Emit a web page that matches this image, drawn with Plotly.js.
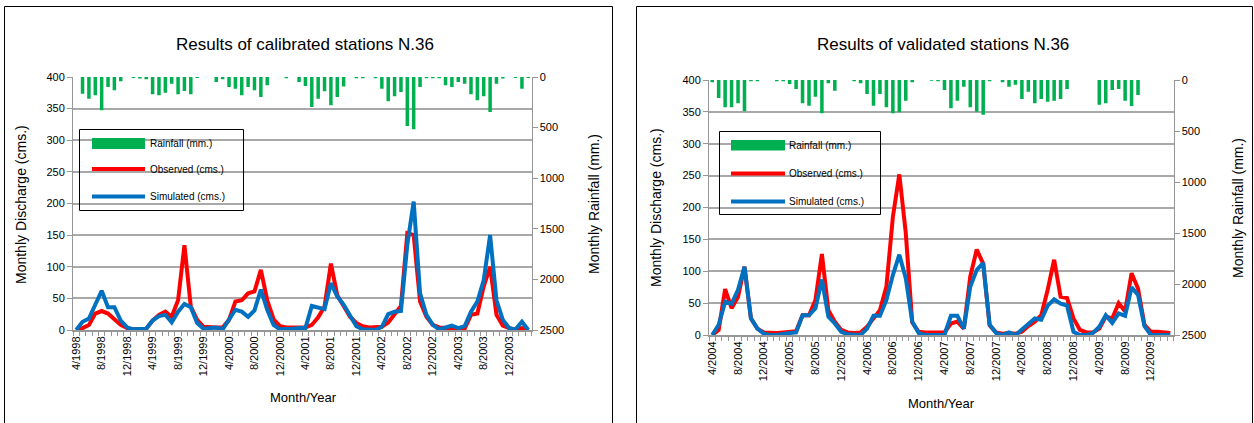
<!DOCTYPE html>
<html>
<head>
<meta charset="utf-8">
<script src="https://cdn.plot.ly/plotly-3.0.1.min.js"></script>
<style>html,body{margin:0;padding:0;background:#fff;}#chart{width:1254px;height:423px;}</style>
</head>
<body>
<div id="chart"></div>
<script>
// ---- Data ----
const months1 = ["4/1998","5/1998","6/1998","7/1998","8/1998","9/1998","10/1998","11/1998","12/1998",
"1/1999","2/1999","3/1999","4/1999","5/1999","6/1999","7/1999","8/1999","9/1999","10/1999","11/1999","12/1999",
"1/2000","2/2000","3/2000","4/2000","5/2000","6/2000","7/2000","8/2000","9/2000","10/2000","11/2000","12/2000",
"1/2001","2/2001","3/2001","4/2001","5/2001","6/2001","7/2001","8/2001","9/2001","10/2001","11/2001","12/2001",
"1/2002","2/2002","3/2002","4/2002","5/2002","6/2002","7/2002","8/2002","9/2002","10/2002","11/2002","12/2002",
"1/2003","2/2003","3/2003","4/2003","5/2003","6/2003","7/2003","8/2003","9/2003","10/2003","11/2003","12/2003",
"1/2004","2/2004","3/2004"];
const months2 = ["4/2004","5/2004","6/2004","7/2004","8/2004","9/2004","10/2004","11/2004","12/2004",
"1/2005","2/2005","3/2005","4/2005","5/2005","6/2005","7/2005","8/2005","9/2005","10/2005","11/2005","12/2005",
"1/2006","2/2006","3/2006","4/2006","5/2006","6/2006","7/2006","8/2006","9/2006","10/2006","11/2006","12/2006",
"1/2007","2/2007","3/2007","4/2007","5/2007","6/2007","7/2007","8/2007","9/2007","10/2007","11/2007","12/2007",
"1/2008","2/2008","3/2008","4/2008","5/2008","6/2008","7/2008","8/2008","9/2008","10/2008","11/2008","12/2008",
"1/2009","2/2009","3/2009","4/2009","5/2009","6/2009","7/2009","8/2009","9/2009","10/2009","11/2009","12/2009",
"1/2010","2/2010","3/2010"];

// Left panel: calibration
const rain1 = [0,165,214,181,329,99,132,43,0,10,16,23,
  171,181,155,66,171,138,171,10,0,0,49,23,
  99,115,181,99,132,197,82,0,0,13,0,49,
  89,296,214,141,280,197,95,0,13,13,0,13,
  115,240,191,148,484,517,99,13,13,13,82,99,
  49,66,171,230,191,345,66,16,0,10,115,10];
const obs1 = [0,3,8,26,30,26,17,8,3,1,1,2,
  15,24,29,21,47,134,37,16,5,4,4,4,
  16,45,47,58,61,95,47,17,6,4,4,4,
  4,8,20,37,105,55,37,21,11,6,4,4,
  5,12,26,38,153,150,45,21,8,4,3,2,
  1,2,24,26,69,100,24,7,3,1,3,0];
const sim1 = [0,13,18,40,62,36,36,15,4,1,1,2,
  15,22,24,12,29,41,36,11,2,3,4,1,
  17,32,29,21,31,64,32,8,1,1,2,3,
  3,38,36,33,74,53,40,24,6,1,1,0,
  5,25,29,30,135,203,58,24,8,1,4,7,
  3,6,29,45,79,150,47,16,3,1,13,0];

// Right panel: validation
const rain2 = [23,177,268,268,229,307,13,13,0,0,13,13,
  39,88,229,252,164,327,33,105,0,0,13,33,
  137,252,137,268,327,317,203,23,0,0,7,13,
  98,278,203,65,268,311,340,13,0,23,65,46,
  186,114,229,186,213,203,186,88,0,0,0,0,
  242,229,98,88,203,255,147,0,0,0,0,0];
const obs2 = [0,8,72,42,60,107,26,10,4,3,3,4,
  5,6,31,31,55,127,39,21,8,4,3,4,
  13,26,39,76,185,252,160,20,5,4,4,4,
  4,18,21,10,92,134,112,15,4,2,3,2,
  5,14,21,31,71,118,60,58,26,8,4,4,
  10,29,26,50,37,97,73,16,5,5,4,3];
const sim2 = [0,16,52,49,71,107,26,10,2,0,0,2,
  3,4,31,31,42,87,29,18,5,1,0,0,
  10,30,30,55,94,126,89,21,3,0,0,0,
  0,30,30,10,76,102,113,16,3,0,4,0,
  8,17,26,24,46,56,49,46,5,0,0,3,
  13,31,19,34,30,75,63,14,0,0,0,0];

const titles = ["Results of calibrated stations N.36", "Results of validated stations N.36"];
const seriesNames = ["Rainfall (mm.)", "Observed (cms.)", "Simulated (cms.)"];
const yLeftTitle = "Monthly Discharge (cms.)";
const yRightTitle = "Monthly Rainfall (mm.)";
const xTitle = "Month/Year";

// ---- Styling ----
const W = 1254, H = 423;
const FONT = "Liberation Sans, Arial, sans-serif";
const GREEN = "#00B050", RED = "#FF0000", BLUE = "#0070C0";
const GRID = "#a8a8a8", AXIS = "#969696";
const px = x => x / W;
const py = y => 1 - y / H;

function tickText(cats) { return cats.map((c, i) => (i % 4 === 0 ? c : "")); }

function xAxis(cats, x0, x1, anchor) {
  return {
    type: "category", domain: [px(x0), px(x1)], anchor: anchor,
    range: [-0.5, cats.length - 0.5],
    tickmode: "array", tickvals: cats, ticktext: tickText(cats),
    tickson: "boundaries", ticks: "outside", ticklen: 4, tickcolor: AXIS, tickwidth: 1,
    tickangle: -90, tickfont: {family: FONT, size: 11, color: "#000"},
    showline: true, linecolor: AXIS, linewidth: 2, showgrid: false, zeroline: false,
    fixedrange: true
  };
}
function yLeft(y0, y1, anchor) {
  return {
    domain: [py(y1), py(y0)], anchor: anchor, range: [0, 400], dtick: 50, tick0: 0,
    showgrid: true, gridcolor: GRID, gridwidth: 2, zeroline: false,
    showline: true, linecolor: AXIS, linewidth: 1,
    ticks: "outside", ticklen: 5, tickcolor: AXIS,
    tickfont: {family: FONT, size: 11, color: "#000"}, fixedrange: true
  };
}
function yRight(over, anchor) {
  return {
    overlaying: over, anchor: anchor, side: "right", range: [2500, 0], dtick: 500, tick0: 0,
    showgrid: false, zeroline: false, showline: true, linecolor: AXIS, linewidth: 1,
    ticks: "outside", ticklen: 5, tickcolor: AXIS,
    tickfont: {family: FONT, size: 11, color: "#000"}, fixedrange: true
  };
}

const data = [
  {type: "bar", x: months1, y: rain1, xaxis: "x", yaxis: "y2", marker: {color: GREEN}, name: seriesNames[0], showlegend: false},
  {type: "scatter", mode: "lines", x: months1, y: obs1, xaxis: "x", yaxis: "y", line: {color: RED, width: 4}, name: seriesNames[1], showlegend: false},
  {type: "scatter", mode: "lines", x: months1, y: sim1, xaxis: "x", yaxis: "y", line: {color: BLUE, width: 4}, name: seriesNames[2], showlegend: false},
  {type: "bar", x: months2, y: rain2, xaxis: "x2", yaxis: "y4", marker: {color: GREEN}, name: seriesNames[0], showlegend: false},
  {type: "scatter", mode: "lines", x: months2, y: obs2, xaxis: "x2", yaxis: "y3", line: {color: RED, width: 4}, name: seriesNames[1], showlegend: false},
  {type: "scatter", mode: "lines", x: months2, y: sim2, xaxis: "x2", yaxis: "y3", line: {color: BLUE, width: 4}, name: seriesNames[2], showlegend: false}
];

const shapes = [];
const annotations = [];
function frame(x0, x1) {
  shapes.push({type: "rect", xref: "paper", yref: "paper", x0: px(x0), x1: px(x1), y0: py(440), y1: py(6.5),
    line: {color: "#000", width: 1}, fillcolor: "rgba(0,0,0,0)", layer: "above"});
}
function legendBox(bx0, by0, bx1, by1, sx0, sx1, gy0, gy1, ry, byy, tx) {
  shapes.push({type: "rect", xref: "paper", yref: "paper", x0: px(bx0), x1: px(bx1), y0: py(by1), y1: py(by0),
    line: {color: "#000", width: 1}, fillcolor: "rgba(0,0,0,0)", layer: "above"});
  shapes.push({type: "rect", xref: "paper", yref: "paper", x0: px(sx0), x1: px(sx1), y0: py(gy1), y1: py(gy0),
    line: {width: 0}, fillcolor: GREEN, layer: "above"});
  shapes.push({type: "line", xref: "paper", yref: "paper", x0: px(sx0), x1: px(sx1), y0: py(ry), y1: py(ry),
    line: {color: RED, width: 4}, layer: "above"});
  shapes.push({type: "line", xref: "paper", yref: "paper", x0: px(sx0), x1: px(sx1), y0: py(byy), y1: py(byy),
    line: {color: BLUE, width: 4}, layer: "above"});
  const ys = [(gy0 + gy1) / 2, ry, byy];
  seriesNames.forEach((n, i) => annotations.push({xref: "paper", yref: "paper", x: px(tx), y: py(ys[i]),
    xanchor: "left", yanchor: "middle", showarrow: false, text: n, font: {family: FONT, size: 10, color: "#000"}}));
}
function label(text, x, y, size, angle) {
  annotations.push({xref: "paper", yref: "paper", x: px(x), y: py(y), xanchor: "center", yanchor: "middle",
    showarrow: false, text: text, textangle: angle || 0, font: {family: FONT, size: size, color: "#000"}});
}

frame(4.5, 612.5);
frame(636.5, 1252.5);
legendBox(79.5, 129.5, 243.5, 210.5, 92, 145, 138, 149, 169, 196.5, 148);
legendBox(719.5, 131.5, 880.5, 214.5, 731, 785, 140, 150.5, 173.5, 201.5, 787);
label(titles[0], 305, 44, 17);
label(titles[1], 943, 44, 17);
label(yLeftTitle, 21, 205, 14, -90);
label(yRightTitle, 594, 204, 14, -90);
label(yLeftTitle, 656, 208, 14, -90);
label(yRightTitle, 1238, 208, 14, -90);
label(xTitle, 303, 397, 13);
label(xTitle, 941, 403, 13);

const layout = {
  width: W, height: H, margin: {l: 0, r: 0, t: 0, b: 0, pad: 0},
  paper_bgcolor: "#fff", plot_bgcolor: "rgba(0,0,0,0)",
  showlegend: false, bargap: 0.45,
  font: {family: FONT, color: "#000"},
  xaxis: xAxis(months1, 73, 531.5, "y"),
  yaxis: yLeft(77, 330, "x"),
  yaxis2: yRight("y", "x"),
  xaxis2: xAxis(months2, 709, 1173.5, "y3"),
  yaxis3: yLeft(80, 335, "x2"),
  yaxis4: yRight("y3", "x2"),
  shapes: shapes, annotations: annotations
};

Plotly.newPlot("chart", data, layout, {staticPlot: true, displayModeBar: false});
</script>
</body>
</html>
